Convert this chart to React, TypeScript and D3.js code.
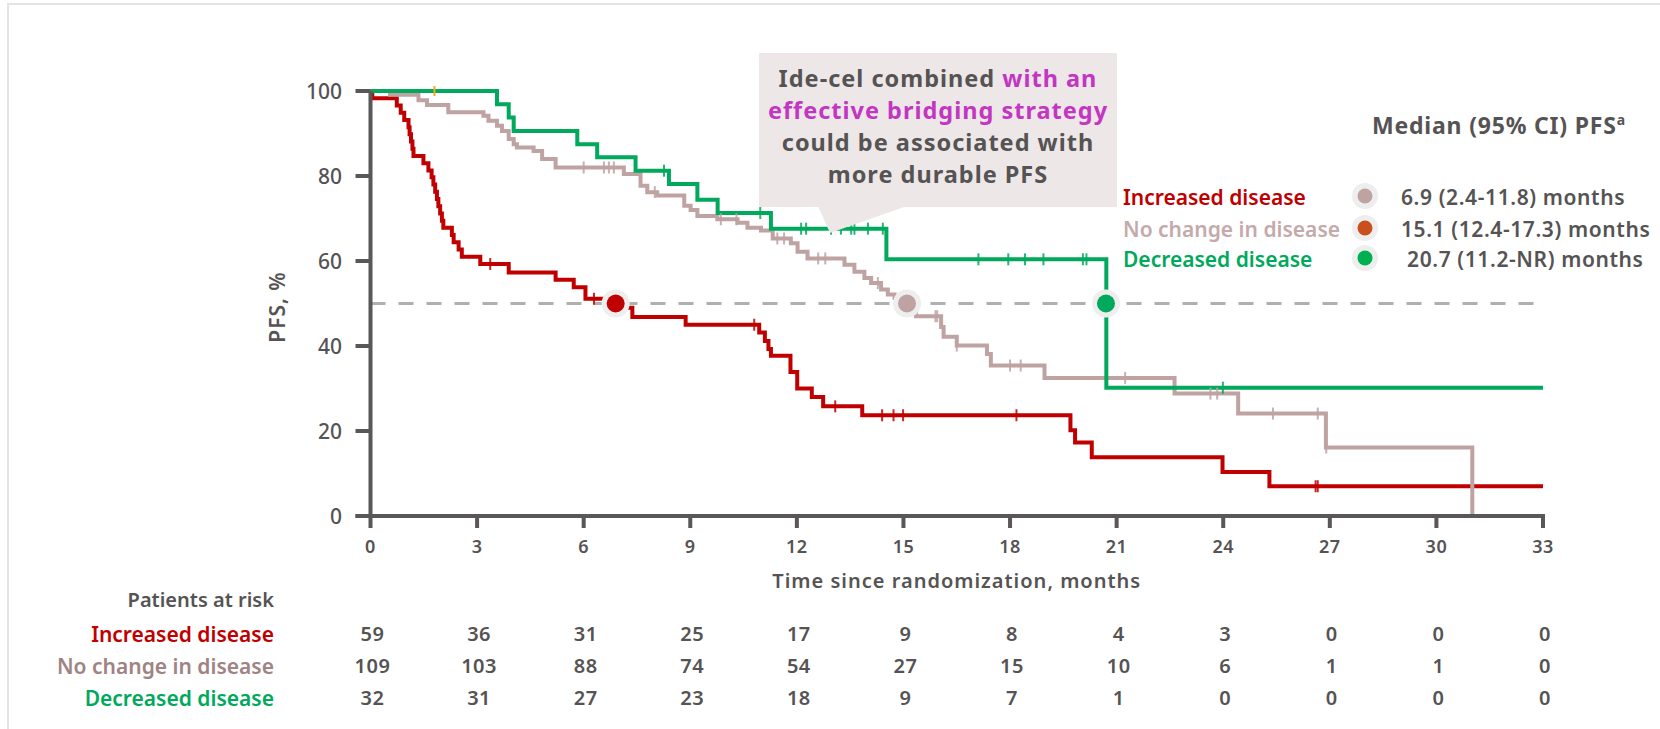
import React from 'react';
import * as d3 from 'd3';

// Kaplan-Meier step data: time (months) -> PFS (%)
const redTimes = [0, 0.05, 0.74, 0.85, 0.95, 1.07, 1.10, 1.14, 1.18, 1.21, 1.49, 1.63, 1.72, 1.77, 1.82, 1.87, 1.91, 1.96, 2.01, 2.05, 2.29, 2.34, 2.48, 2.57, 3.09, 3.89, 5.21, 5.72, 6.05, 6.94, 7.37, 8.87, 10.94, 11.10, 11.20, 11.27, 11.82, 12.01, 12.42, 12.74, 13.84, 19.70, 19.83, 20.30, 23.98, 25.30, 33];
const redSurv = [100, 98.3, 96.6, 94.9, 93.2, 91.5, 89.8, 88.1, 86.4, 84.7, 83.0, 81.3, 79.7, 78.0, 76.3, 74.6, 72.9, 71.2, 69.5, 67.8, 66.1, 64.4, 62.7, 61.0, 59.3, 57.3, 55.6, 53.8, 51.1, 49.0, 46.8, 45.0, 43.2, 41.2, 39.3, 37.7, 33.9, 30.0, 28.0, 25.8, 23.7, 20.2, 17.3, 13.85, 10.35, 7.0, 7.0];
const redCensor = [3.37, 6.29, 10.8, 13.08, 14.4, 14.72, 14.99, 18.18, 26.6, 26.66];

const grayTimes = [0, 0.55, 1.35, 1.59, 2.19, 3.18, 3.32, 3.56, 3.70, 3.89, 4.03, 4.12, 4.59, 4.83, 5.21, 7.13, 7.60, 7.79, 8.07, 8.83, 9.01, 9.20, 9.76, 10.33, 10.61, 10.99, 11.32, 11.83, 12.02, 12.30, 13.34, 13.62, 13.90, 14.09, 14.37, 14.56, 14.75, 15.13, 15.35, 16.06, 16.13, 16.50, 17.35, 17.46, 18.97, 22.63, 24.42, 26.89, 31.01];
const graySurv = [100, 99.1, 97.8, 96.7, 95.0, 94.2, 93.0, 91.8, 90.6, 88.7, 87.5, 86.7, 85.9, 84.0, 82.0, 80.5, 77.7, 76.2, 75.4, 73.0, 72.0, 70.6, 69.8, 69.0, 67.8, 67.2, 65.3, 64.2, 62.2, 60.6, 59.1, 57.5, 56.0, 54.8, 53.3, 52.1, 51.3, 49.0, 47.0, 44.5, 42.2, 40.1, 38.1, 35.4, 32.5, 28.8, 24.1, 16.1, 0];
const grayCensor = [6.0, 6.57, 6.71, 6.85, 8.0, 9.86, 10.3, 11.45, 11.64, 12.6, 12.8, 14.28, 15.9, 15.95, 16.5, 18.0, 18.3, 21.24, 23.64, 23.83, 25.4, 26.66, 26.9];

const greenTimes = [0, 3.56, 3.89, 4.03, 5.82, 6.38, 7.46, 8.40, 9.20, 9.77, 11.27, 14.52, 20.71, 33];
const greenSurv = [100, 96.9, 93.75, 90.6, 87.5, 84.4, 81.25, 78.1, 74.4, 71.3, 67.6, 60.4, 30.2, 30.2];
const greenCensor = [8.26, 10.97, 12.12, 12.26, 12.96, 13.24, 13.53, 13.62, 14.0, 14.42, 17.11, 17.95, 18.42, 18.94, 20.05, 20.15, 23.99];
const orangeCensor = [1.8];

const medians = [6.9, 15.1, 20.7];

const xTicks = [0, 3, 6, 9, 12, 15, 18, 21, 24, 27, 30, 33];
const yTicks = [0, 20, 40, 60, 80, 100];

const riskLabels = ['Increased disease', 'No change in disease', 'Decreased disease'];
const riskRed = [59, 36, 31, 25, 17, 9, 8, 4, 3, 0, 0, 0];
const riskGray = [109, 103, 88, 74, 54, 27, 15, 10, 6, 1, 1, 0];
const riskGreen = [32, 31, 27, 23, 18, 9, 7, 1, 0, 0, 0, 0];

const legendValues = ['6.9 (2.4-11.8) months', '15.1 (12.4-17.3) months', ' 20.7 (11.2-NR) months'];

const RED = '#C00000';
const GRAY = '#BFA3A3';
const GREEN = '#00A95C';
const TXT = '#555353';
const MAGENTA = '#C236C2';
const FONT = '"Noto Sans", "DejaVu Sans", sans-serif';

const x = d3.scaleLinear().domain([0, 33]).range([370.5, 1543]);
const y = d3.scaleLinear().domain([0, 100]).range([516, 91]);

const line = d3.line<[number, number]>()
  .x(d => x(d[0]))
  .y(d => y(d[1]))
  .curve(d3.curveStepAfter);

const zip = (t: number[], s: number[]) => t.map((v, i) => [v, s[i]] as [number, number]);

// survival value at time t on a step curve
const survAt = (t: number[], s: number[], time: number) => {
  let v = s[0];
  for (let i = 0; i < t.length; i++) if (t[i] <= time) v = s[i];
  return v;
};

const series = [
  { times: redTimes, surv: redSurv, censor: redCensor, color: RED },
  { times: grayTimes, surv: graySurv, censor: grayCensor, color: GRAY },
  { times: greenTimes, surv: greenSurv, censor: greenCensor, color: GREEN },
];

const App: React.FC = () => {
  const riskRows = [riskRed, riskGray, riskGreen];
  const riskColors = [RED, '#A08383', GREEN];
  const riskY = [634, 666, 698];
  const legendY = [197, 229, 259];
  const legendDot = ['#BFA3A3', '#C9501C', '#00B050'];
  const legendText = [RED, '#C4AAAA', GREEN];

  return (
    <div style={{ position: 'absolute', left: 0, top: 0 }}>
      <svg width={1660} height={729} style={{ display: 'block', fontFamily: FONT }}>
        <rect x={0} y={0} width={1660} height={729} fill="#fff" />
        <rect x={8} y={4} width={1700} height={800} fill="none" stroke="#E8E3E3" strokeWidth={2} />

        {/* median reference line */}
        <line x1={x(0)} x2={x(33)} y1={y(50)} y2={y(50)} stroke="#B0B0B0" strokeWidth={3} strokeDasharray="15,13" />

        {/* curves */}
        {series.map((s, i) => (
          <path key={i} d={line(zip(s.times, s.surv)) || ''} fill="none" stroke={s.color} strokeWidth={4} />
        ))}
        {series.map((s, i) => (
          <g key={'c' + i}>
            {s.censor.map((c, j) => (
              <line key={j} x1={x(c)} x2={x(c)} y1={y(survAt(s.times, s.surv, c)) - 6} y2={y(survAt(s.times, s.surv, c)) + 6}
                stroke={s.color} strokeWidth={2} opacity={0.85} />
            ))}
          </g>
        ))}
        {orangeCensor.map((c, j) => (
          <line key={'o' + j} x1={x(c)} x2={x(c)} y1={y(100) - 5} y2={y(100) + 5} stroke="#F5A623" strokeWidth={2} />
        ))}

        {/* medians */}
        {medians.map((m, i) => (
          <g key={'m' + i}>
            <circle cx={x(m)} cy={y(50)} r={14} fill="#EEEEEE" />
            <circle cx={x(m)} cy={y(50)} r={9} fill={series[i].color} />
          </g>
        ))}

        {/* axes */}
        <line x1={x(0)} x2={x(0)} y1={y(100)} y2={y(0) + 2} stroke="#595757" strokeWidth={4} />
        <line x1={x(0) - 15} x2={x(33) + 2} y1={y(0)} y2={y(0)} stroke="#595757" strokeWidth={4} />
        {yTicks.map(t => (
          <g key={'y' + t}>
            <line x1={x(0) - 15} x2={x(0)} y1={y(t)} y2={y(t)} stroke="#595757" strokeWidth={4} />
            <text x={342} y={y(t)} dy="0.36em" textAnchor="end" fontSize={21} fill={TXT} fontWeight={500}>{t}</text>
          </g>
        ))}
        {xTicks.map(t => (
          <g key={'x' + t}>
            <line x1={x(t)} x2={x(t)} y1={y(0)} y2={y(0) + 12} stroke="#595757" strokeWidth={4} />
            <text x={x(t)} y={547} dy="0.36em" textAnchor="middle" fontSize={18} fill={TXT} fontWeight={600} letterSpacing={0.5}>{t}</text>
          </g>
        ))}
        <text x={(x(0) + x(33)) / 2} y={581} dy="0.36em" textAnchor="middle" fontSize={20} fill={TXT} fontWeight={600} letterSpacing={1}>
          Time since randomization, months
        </text>
        <text transform="translate(277,307) rotate(-90)" dy="0.36em" textAnchor="middle" fontSize={21} fill={TXT} fontWeight={600} letterSpacing={1}>
          PFS, %
        </text>

        {/* callout */}
        <rect x={759} y={53} width={358} height={154} fill="#EDE7E7" />
        <path d="M818,206 L830,233 L907,206 Z" fill="#EDE7E7" />
        <g fontSize={23.5} fontWeight={700} textAnchor="middle" letterSpacing={1}>
          <text x={938} y={87} fill={TXT}>Ide-cel combined <tspan fill={MAGENTA}>with an</tspan></text>
          <text x={938} y={119} fill={MAGENTA}>effective bridging strategy</text>
          <text x={938} y={151} fill={TXT}>could be associated with</text>
          <text x={938} y={183} fill={TXT}>more durable PFS</text>
        </g>

        {/* legend */}
        <text x={1372} y={134} fontSize={23} fontWeight={700} fill={TXT} letterSpacing={0.8}>
          Median (95% CI) PFS<tspan fontSize={14} dy={-9}>a</tspan>
        </text>
        {riskLabels.map((l, i) => (
          <g key={'l' + i}>
            <text x={1123} y={legendY[i]} dy="0.36em" fontSize={21} fontWeight={600} fill={legendText[i]}>{l}</text>
            <circle cx={1365} cy={legendY[i] - 1} r={13} fill="#EEEEEE" />
            <circle cx={1365} cy={legendY[i] - 1} r={7.5} fill={legendDot[i]} />
            <text x={1401} y={legendY[i]} dy="0.36em" fontSize={21} fontWeight={600} fill={TXT} letterSpacing={0.6} style={{ whiteSpace: 'pre' }}>
              {legendValues[i]}
            </text>
          </g>
        ))}

        {/* risk table */}
        <text x={274} y={600} dy="0.36em" textAnchor="end" fontSize={20} fontWeight={600} fill={TXT}>Patients at risk</text>
        {riskRows.map((row, r) => (
          <g key={'r' + r}>
            <text x={274} y={riskY[r]} dy="0.36em" textAnchor="end" fontSize={21} fontWeight={600} fill={riskColors[r]}>
              {riskLabels[r]}
            </text>
            {row.map((v, i) => (
              <text key={i} x={x(xTicks[i]) + 2} y={riskY[r]} dy="0.36em" textAnchor="middle" fontSize={20} fontWeight={600} fill={TXT} letterSpacing={0.5}>
                {v}
              </text>
            ))}
          </g>
        ))}
      </svg>
    </div>
  );
};

export default App;
